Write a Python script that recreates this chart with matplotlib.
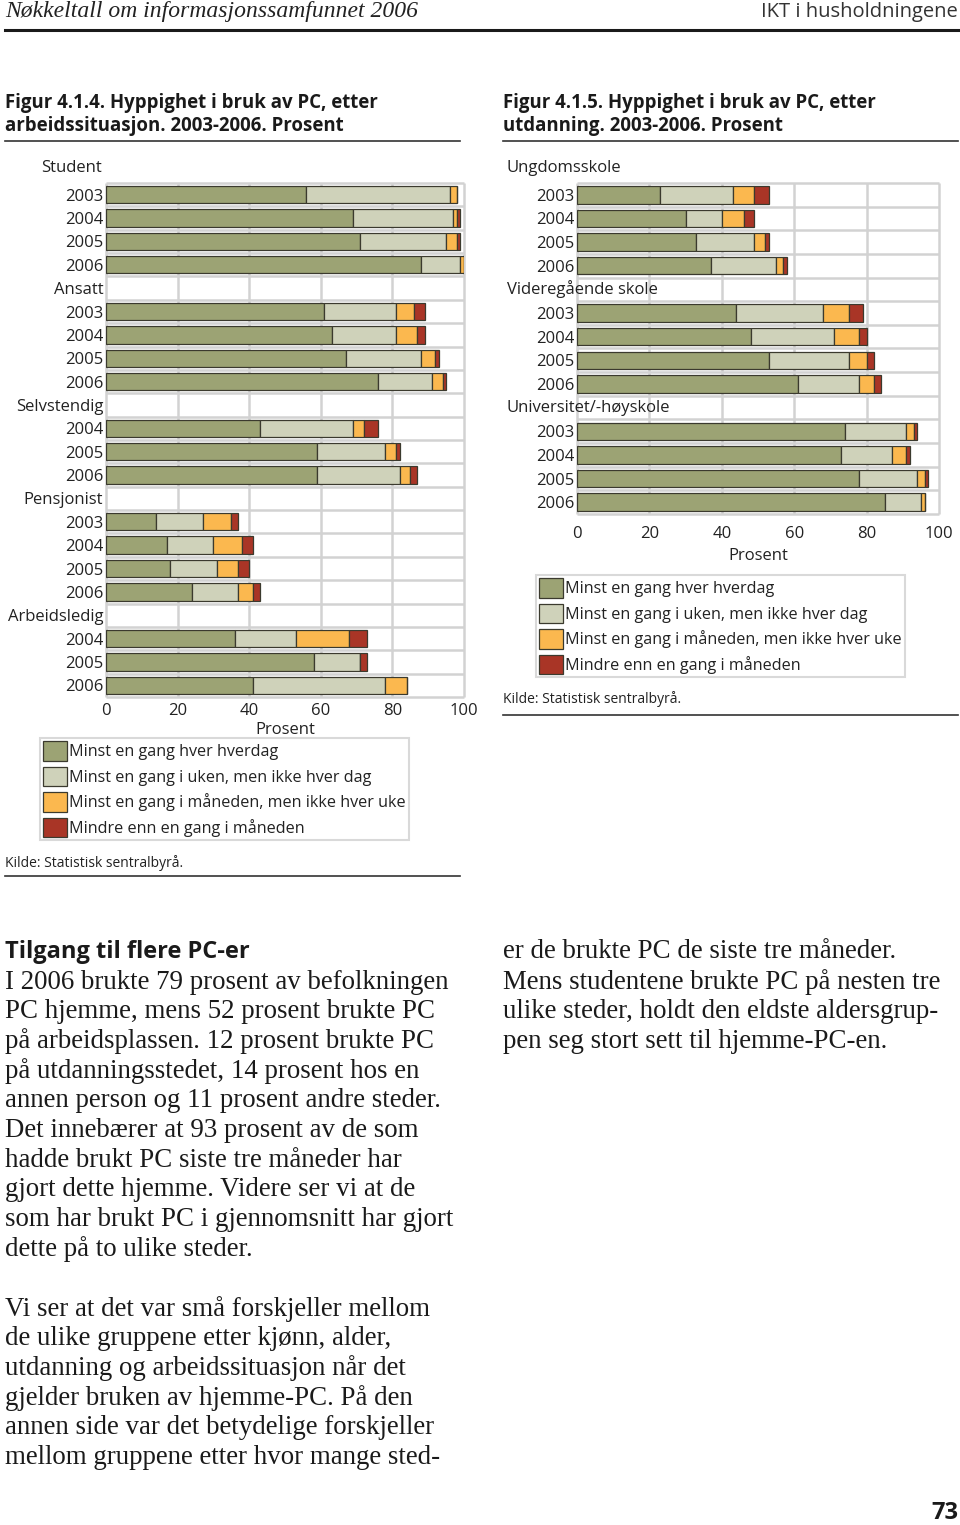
import matplotlib
matplotlib.use("Agg")
import matplotlib.pyplot as plt
import numpy as np

plt.rcParams['font.family'] = ['Open Sans', 'DejaVu Sans']

# --- data -------------------------------------------------------------
work_groups = ["Student", "Ansatt", "Selvstendig", "Pensjonist", "Arbeidsledig"]
work_years = [[2003, 2004, 2005, 2006], [2003, 2004, 2005, 2006], [2004, 2005, 2006],
              [2003, 2004, 2005, 2006], [2004, 2005, 2006]]
work_daily = [56, 69, 71, 88, 61, 63, 67, 76, 43, 59, 59, 14, 17, 18, 24, 36, 58, 41]
work_weekly = [40, 28, 24, 11, 20, 18, 21, 15, 26, 19, 23, 13, 13, 13, 13, 17, 13, 37]
work_monthly = [2, 1, 3, 1, 5, 6, 4, 3, 3, 3, 3, 8, 8, 6, 4, 15, 0, 6]
work_less = [0, 1, 1, 0, 3, 2, 1, 1, 4, 1, 2, 2, 3, 3, 2, 5, 2, 0]

edu_groups = ["Ungdomsskole", "Videregående skole", "Universitet/-høyskole"]
edu_years = [[2003, 2004, 2005, 2006]] * 3
edu_daily = [23, 30, 33, 37, 44, 48, 53, 61, 74, 73, 78, 85]
edu_weekly = [20, 10, 16, 18, 24, 23, 22, 17, 17, 14, 16, 10]
edu_monthly = [6, 6, 3, 2, 7, 7, 5, 4, 2, 4, 2, 1]
edu_less = [4, 3, 1, 1, 4, 2, 2, 2, 1, 1, 1, 0]

series_names = ["Minst en gang hver hverdag",
                "Minst en gang i uken, men ikke hver dag",
                "Minst en gang i måneden, men ikke hver uke",
                "Mindre enn en gang i måneden"]
colors = ["#9ca374", "#cfd2ba", "#fbb84f", "#a93526"]
grid_col = "#d2d2d2"

W, H = 960, 1525
fig = plt.figure(figsize=(W / 100, H / 100), dpi=100)


def fx(x):
    return x / W


def fy(y):
    return 1 - y / H


def layout(groups, years):
    heads, ticks, bar_rows = [], [], []
    r = 0
    for g, ys in zip(groups, years):
        heads.append((r, g))
        r += 1
        for y in ys:
            ticks.append((r, str(y)))
            bar_rows.append(r)
            r += 1
    return heads, ticks, bar_rows, r


def chart(rect, groups, years, values, heads_left_x=None, xpad=4, labelpad=1):
    ax = fig.add_axes(rect)
    heads, ticks, rows, n = layout(groups, years)
    rows = np.array(rows)
    left = np.zeros(len(rows))
    bars = []
    for vals, c, name in zip(values, colors, series_names):
        vals = np.array(vals, dtype=float)
        b = ax.barh(rows, vals, left=left, height=0.74, color=c,
                    edgecolor="#3b3a2e", linewidth=0.9, label=name, zorder=3)
        bars.append(b)
        left += vals
    ax.set_xlim(0, 100)
    ax.set_ylim(n - 0.5, 0.5)
    ax.hlines(np.arange(0.5, n), 0, 100, color=grid_col, lw=1.8, zorder=1, clip_on=False)
    ax.vlines(np.arange(0, 101, 20), 0.5, n - 0.5, color=grid_col, lw=1.8, zorder=1, clip_on=False)
    for s in ax.spines.values():
        s.set_visible(False)
    ax.set_xticks(np.arange(0, 101, 20))
    ax.tick_params(axis="both", length=0, labelsize=12, colors="#222222")
    ax.tick_params(axis="x", pad=xpad)
    ax.tick_params(axis="y", pad=2)
    # year rows plus in-axes group headers as y tick labels
    tick_items = list(ticks)
    if heads_left_x is None:
        tick_items += [h for h in heads if h[0] > 0]
    tick_items.sort()
    ax.set_yticks([t[0] for t in tick_items])
    ax.set_yticklabels([t[1] for t in tick_items])
    tr = ax.get_yaxis_transform()
    if heads_left_x is None:
        ax.text(-0.011, heads[0][0] - 0.15, heads[0][1], transform=tr, ha="right",
                va="center", fontsize=12, color="#222222", clip_on=False)
    else:
        for r, g in heads:
            yy = r - 0.15 if r == 0 else r
            ax.text(heads_left_x, yy, g, transform=tr, ha="left", va="center",
                    fontsize=12, color="#222222", clip_on=False, zorder=5)
    ax.set_xlabel("Prosent", fontsize=12, color="#222222", labelpad=labelpad)
    return ax, bars


axL, barsL = chart([fx(106), fy(697), fx(358), (697 - 183) / H], work_groups, work_years,
                   [work_daily, work_weekly, work_monthly, work_less], labelpad=2.5)
axR, barsR = chart([fx(577), fy(514), fx(362), (514 - 183) / H], edu_groups, edu_years,
                   [edu_daily, edu_weekly, edu_monthly, edu_less],
                   heads_left_x=(507 - 577) / 362, xpad=8.5, labelpad=4.5)

for ax, bars, (lx, ly) in [(axL, barsL, (40, 738)), (axR, barsR, (536, 575))]:
    leg = fig.legend(handles=bars, labels=series_names, loc="upper left",
                     bbox_to_anchor=(fx(lx), fy(ly)), bbox_transform=fig.transFigure,
                     frameon=True, fancybox=False, edgecolor="#d0d0d0", fontsize=11.6,
                     borderpad=0.2, labelspacing=0.36, handlelength=1.5,
                     handleheight=1.5, handletextpad=0.12, borderaxespad=0)
    leg.get_frame().set_linewidth(1.5)
    for t in leg.get_texts():
        t.set_color("#222222")

# --- page furniture ---------------------------------------------------
fig.text(fx(5), fy(12), "Nøkkeltall om informasjonssamfunnet 2006", family="Liberation Serif",
         style="italic", fontsize=17, va="center", ha="left", color="#222222")
fig.text(fx(958), fy(12), "IKT i husholdningene", fontsize=14.5, va="center", ha="right",
         color="#333333")
fig.add_artist(plt.Line2D([fx(5), fx(958)], [fy(30), fy(30)], color="#1a1a1a", lw=2.2))

for x0, x1, l1, l2 in [(5, 460, "Figur 4.1.4. Hyppighet i bruk av PC, etter",
                        "arbeidssituasjon. 2003-2006. Prosent"),
                       (503, 958, "Figur 4.1.5. Hyppighet i bruk av PC, etter",
                        "utdanning. 2003-2006. Prosent")]:
    fig.text(fx(x0), fy(103), l1, fontsize=13.4, weight="bold", va="center", color="#1a1a1a")
    fig.text(fx(x0), fy(126), l2, fontsize=13.4, weight="bold", va="center", color="#1a1a1a")
    fig.add_artist(plt.Line2D([fx(x0), fx(x1)], [fy(141), fy(141)], color="#333333", lw=1.2))

fig.text(fx(5), fy(863), "Kilde: Statistisk sentralbyrå.", fontsize=10, va="center", color="#222222")
fig.add_artist(plt.Line2D([fx(5), fx(460)], [fy(876), fy(876)], color="#333333", lw=1.2))
fig.text(fx(503), fy(699), "Kilde: Statistisk sentralbyrå.", fontsize=10, va="center", color="#222222")
fig.add_artist(plt.Line2D([fx(503), fx(958)], [fy(715), fy(715)], color="#333333", lw=1.2))

fig.text(fx(5), fy(952), "Tilgang til flere PC-er", fontsize=17, weight="bold", va="center",
         color="#1a1a1a")

body_left = ["I 2006 brukte 79 prosent av befolkningen",
             "PC hjemme, mens 52 prosent brukte PC",
             "på arbeidsplassen. 12 prosent brukte PC",
             "på utdanningsstedet, 14 prosent hos en",
             "annen person og 11 prosent andre steder.",
             "Det innebærer at 93 prosent av de som",
             "hadde brukt PC siste tre måneder har",
             "gjort dette hjemme. Videre ser vi at de",
             "som har brukt PC i gjennomsnitt har gjort",
             "dette på to ulike steder."]
body_left2 = ["Vi ser at det var små forskjeller mellom",
              "de ulike gruppene etter kjønn, alder,",
              "utdanning og arbeidssituasjon når det",
              "gjelder bruken av hjemme-PC. På den",
              "annen side var det betydelige forskjeller",
              "mellom gruppene etter hvor mange sted-"]
body_right = ["er de brukte PC de siste tre måneder.",
              "Mens studentene brukte PC på nesten tre",
              "ulike steder, holdt den eldste aldersgrup-",
              "pen seg stort sett til hjemme-PC-en."]

lh = 29.7
for lines, x0, y0 in [(body_left, 5, 982), (body_left2, 5, 1309), (body_right, 503, 952)]:
    for i, line in enumerate(lines):
        fig.text(fx(x0), fy(y0 + i * lh), line, family="Liberation Serif", fontsize=19.4,
                 va="center", ha="left", color="#1a1a1a")

fig.text(fx(958), fy(1513), "73", fontsize=17, weight="bold", ha="right", va="center",
         color="#1a1a1a")

fig.savefig("out.png", dpi=100)
